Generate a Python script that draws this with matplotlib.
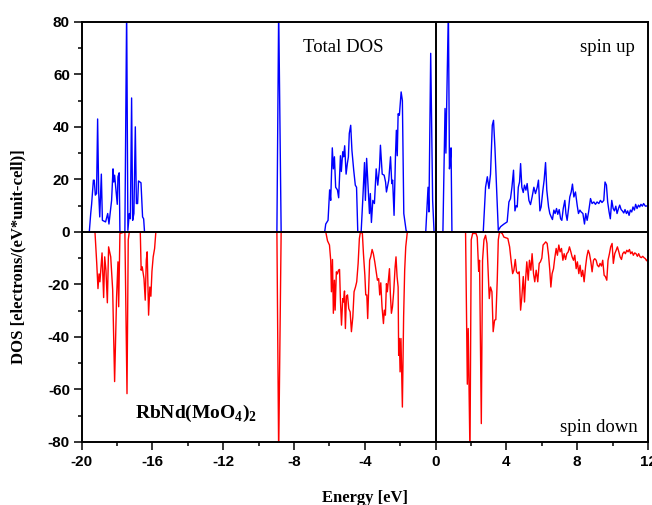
import matplotlib
matplotlib.use("Agg")
import matplotlib.pyplot as plt
from matplotlib.ticker import MultipleLocator

# spin up total DOS (energy in eV, states)
up_energy = [-19.57, -19.49, -19.44, -19.34, -19.29, -19.23, -19.16, -19.10, -19.04, -18.98, -18.89, -18.83,
             -18.65, -18.53, -18.46, -18.31, -18.23, -18.19, -18.14, -17.99, -17.95, -17.88, -17.84, -17.56,
             -17.46, -17.39, -17.31, -17.25, -17.18, -17.12, -17.05, -16.97, -16.91, -16.84, -16.79, -16.65,
             -16.56, -16.50, -16.45,
             -8.97, -8.87, -8.73,
             -6.27, -6.21, -6.08, -5.99, -5.93, -5.84, -5.78, -5.72, -5.65, -5.55, -5.48, -5.38, -5.33, -5.25,
             -5.20, -5.14, -5.06, -4.99, -4.93, -4.88, -4.80, -4.73, -4.63, -4.54, -4.47, -4.40, -4.21, -4.12,
             -4.02, -3.97, -3.90, -3.82, -3.74, -3.69, -3.63, -3.55, -3.46, -3.36, -3.27, -3.17, -3.12, -3.02,
             -2.91, -2.83, -2.78, -2.65, -2.55, -2.48, -2.43, -2.35, -2.27, -2.22, -2.17, -2.12, -2.05, -1.95,
             -1.88, -1.80, -1.67, -1.62,
             -0.56, -0.43, -0.38, -0.28, -0.17, -0.09, 0.41, 0.53, 0.58, 0.62, 0.72, 0.78, 0.82, 0.87, 0.92,
             2.69, 2.82, 2.92, 3.01, 3.10, 3.20, 3.27, 3.35, 3.44, 3.54, 3.67, 3.86, 4.04, 4.14, 4.23, 4.31,
             4.40, 4.48, 4.55, 4.61, 4.67, 4.74, 4.80, 4.87, 4.95, 5.02, 5.10, 5.17, 5.27, 5.36, 5.45, 5.55,
             5.64, 5.74, 5.81, 5.89, 5.96, 6.06, 6.13, 6.21, 6.28, 6.38, 6.45, 6.53, 6.60, 6.68, 6.75, 6.83,
             6.90, 6.98, 7.06, 7.13, 7.21, 7.30, 7.36, 7.43, 7.51, 7.58, 7.66, 7.73, 7.81, 7.90, 8.00, 8.07,
             8.15, 8.22, 8.32, 8.41, 8.48, 8.56, 8.65, 8.75, 8.84, 8.94, 9.03, 9.12, 9.22, 9.31, 9.40, 9.50,
             9.57, 9.65, 9.72, 9.80, 9.87, 9.95, 10.03, 10.10, 10.18, 10.25, 10.33, 10.40, 10.48, 10.55, 10.63,
             10.70, 10.78, 10.85, 10.93, 11.00, 11.08, 11.15, 11.23, 11.30, 11.38, 11.46, 11.53, 11.60, 11.68,
             11.75, 11.85, 11.94, 12.0]
up_dos = [0, 7, 10.5, 19.7, 19.7, 14, 14.6, 43, 15, 5.7, 22, 4.4,
          3.8, 7, 3, 12, 24, 19, 21.6, 10.5, 21, 22.5, 0, 0,
          85, 0.6, 7, 5, 51, 4.4, 7, 40, 10.8, 10.8, 19.4, 18.7,
          5.7, 5, 0,
          0, 85, 0,
          0, 3, 4.4, 16, 12, 32, 24, 28.6, 17, 16, 13, 29, 23, 30.5,
          28.6, 32.8, 22, 26, 28.6, 37.5, 40.6, 31, 23.5, 17.8, 17, 0, 0, 12,
          26.4, 12, 28, 17.8, 7, 14.6, 3.6, 12, 10.8, 24, 17.8, 24.8, 33, 22,
          21.6, 19, 15.2, 19.7, 28.6, 18.4, 19.7, 6.3, 29, 38.7, 29, 45, 44.4, 53.3,
          50, 7, 0.6, 0,
          0, 17, 7.6, 68, 12, 0, 0, 47, 30, 47, 85, 24, 27, 32, 0,
          0, 17, 21, 16.5, 22, 40.6, 42.5, 32, 17, 0.6, 2, 3, 3.8, 11.4, 12.7, 17,
          23.5, 8, 10, 9.5, 17, 19, 26, 17, 15, 17.8, 15.9, 18.4, 12, 10.4, 13.3, 17,
          14.6, 17, 19.7, 8, 9.5, 15.9, 19.7, 26.4, 15.9, 9.5, 7, 5.7, 4.7, 8.3, 7, 8.9,
          6.7, 8.5, 5, 4.4, 8.9, 12, 7, 4.4, 8.9, 13.3, 15.2, 18.2, 13.3, 15.2, 10, 7,
          8.3, 7.6, 7, 3, 7, 4.4, 7.9, 12.7, 10.8, 11.4, 10.5, 11.4, 10.8, 12, 11.2, 12,
          19, 17.8, 11.4, 7.6, 5, 12, 8.9, 8, 9.8, 7, 8.9, 10.2, 8.5, 8, 7.2,
          8.5, 7, 8, 6.3, 8.3, 7.6, 9.5, 8.3, 10.5, 8.9, 10.2, 9.5, 10.5, 9.8,
          10.8, 9.8, 9.9, 9.5]

# spin down total DOS
down_energy = [-19.25, -19.15, -19.08, -19.02, -18.97, -18.85, -18.76, -18.70, -18.63, -18.55, -18.48, -18.36,
               -18.25, -18.14, -18.03, -17.95, -17.91, -17.84, -17.56, -17.44, -17.37, -17.31, -16.69, -16.64,
               -16.58, -16.48, -16.41, -16.35, -16.30, -16.22, -16.15, -16.09, -16.03, -15.96, -15.88, -15.81,
               -8.97, -8.87, -8.73,
               -6.21, -6.11, -6.00, -5.93, -5.89, -5.83, -5.78, -5.72, -5.68, -5.61, -5.55, -5.49, -5.43, -5.38,
               -5.32, -5.25, -5.21, -5.15, -5.10, -5.04, -4.98, -4.91, -4.83, -4.76, -4.68, -4.61, -4.53, -4.46,
               -4.38, -4.31, -4.25, -4.14, -4.08, -4.00, -3.95, -3.89, -3.84, -3.78, -3.73, -3.67, -3.59, -3.52,
               -3.44, -3.37, -3.29, -3.22, -3.16, -3.10, -3.03, -2.95, -2.90, -2.84, -2.78, -2.73, -2.67, -2.61,
               -2.56, -2.50, -2.44, -2.37, -2.29, -2.24, -2.18, -2.12, -2.09, -2.05, -2.01, -1.96, -1.88, -1.81,
               -1.75, -1.69, -1.60,
               1.69, 1.75, 1.79, 1.84, 1.94, 2.01, 2.09, 2.28, 2.35, 2.43, 2.48, 2.58, 2.65, 2.73, 2.82, 2.90,
               2.97, 3.03, 3.10, 3.18, 3.25, 3.33, 3.40, 3.48, 3.54, 3.61, 3.76, 3.86, 4.08, 4.18, 4.27, 4.35,
               4.42, 4.50, 4.57, 4.65, 4.72, 4.80, 4.87, 4.95, 5.02, 5.08, 5.15, 5.23, 5.30, 5.38, 5.45, 5.53,
               5.60, 5.68, 5.77, 5.85, 5.92, 6.00, 6.07, 6.15, 6.22, 6.30, 6.38, 6.45, 6.51, 6.58, 6.66, 6.73,
               6.81, 6.88, 6.96, 7.03, 7.11, 7.19, 7.26, 7.34, 7.41, 7.49, 7.56, 7.64, 7.71, 7.79, 7.86, 7.94,
               8.01, 8.09, 8.16, 8.24, 8.31, 8.39, 8.47, 8.54, 8.62, 8.69, 8.77, 8.84, 8.92, 8.99, 9.07, 9.14,
               9.22, 9.29, 9.37, 9.44, 9.52, 9.59, 9.67, 9.74, 9.82, 9.89, 9.97, 10.04, 10.12, 10.20, 10.27,
               10.35, 10.42, 10.50, 10.57, 10.65, 10.72, 10.80, 10.87, 10.95, 11.02, 11.10, 11.17, 11.25, 11.32,
               11.40, 11.47, 11.55, 11.62, 11.70, 11.77, 11.85, 11.92, 12.0]
down_dos = [0, -12, -21.6, -16, -19, -8, -25, -9.5, -14.6, -27, -5.7, -9.5,
            -22, -57, -25, -11.4, -28.5, -0.6, 0, -61.6, -3, 0, 0, -14.6,
            -13.3, -17.8, -26, -10.8, -7.6, -31.7, -21, -24.5, -15, -9.5, -6.3, 0,
            0, -85, 0,
            0, -3.4, -5, -10.8, -22.8, -10.5, -31, -18.4, -29.8, -15.2, -16, -14.6, -14.3, -26,
            -35.5, -25.4, -26.7, -22.5, -36.8, -24.5, -24, -29.2, -30.5, -38, -32.4, -22.8, -21, -19,
            -12, -2.5, 0, -0.6, -8.3, -16.5, -24, -24, -33, -21, -10.8, -9.5, -6.7, -8.3,
            -11.4, -14.6, -18.4, -17.8, -24, -19.4, -28.6, -34.9, -29.8, -31.7, -19.7, -22.8, -18.4, -14,
            -23.5, -31, -28.6, -22.8, -13.3, -9.5, -17, -21, -47, -40.6, -53.3, -40.6, -66.7, -32.4,
            -14.6, -5.7, 0,
            0, -36.8, -58, -36.8, -85, -3, -0.6, -0.6, -2, -15, -10.8, -73, -10.8, -3, -1.3, -4.4,
            -15.9, -25.4, -21, -22.8, -38, -33.6, -33.4, -18.4, -3, 0, -0.6, -2, -2.5, -5.7, -11.4, -15.9,
            -14.6, -10.5, -15.2, -15.9, -15.2, -29.8, -24.8, -17, -26.7, -18.4, -11.4, -18.4, -10.8, -14.6, -8.3, -15.9,
            -19, -14.6, -19, -12, -11.4, -10, -5, -4.4, -3.8, -4.4, -8.9, -14.6, -21, -15.9, -14, -10,
            -6.3, -8.9, -5, -7.6, -6.3, -10.8, -8.3, -10.5, -8.3, -7.6, -5.7, -7.6, -9.5, -10.8, -8.9, -14,
            -11.4, -15.9, -12.7, -17, -14.6, -19, -13.3, -9.5, -7, -8.3, -11.4, -15.2, -10.8, -10.2, -10.8, -12.7,
            -13.3, -12, -13, -10.8, -16.5, -17, -18.4, -10.8, -8.3, -5.7, -4.4, -12, -8.3, -7, -5.7,
            -7.6, -9.5, -10.5, -8.3, -7.6, -8.3, -7, -7.6, -6.7, -8.3, -7.6, -8.9, -8, -8.3,
            -9.3, -8.3, -9.5, -9.8, -9.3, -9.8, -10.2, -11, -10.2]

x_ticks = [-20, -16, -12, -8, -4, 0, 4, 8, 12]
y_ticks = [-80, -60, -40, -20, 0, 20, 40, 60, 80]

serif = "Liberation Serif"
sans = "Liberation Sans"

plt.rcParams["axes.unicode_minus"] = False
plt.rcParams["mathtext.fontset"] = "custom"
plt.rcParams["mathtext.rm"] = "Liberation Serif"
plt.rcParams["mathtext.bf"] = "Liberation Serif:bold"

fig = plt.figure(figsize=(6.52, 5.05), dpi=100)
ax = fig.add_axes([0.1253, 0.1248, 0.8686, 0.832])

ax.plot(up_energy, up_dos, color="#0000ff", lw=1.0)
ax.plot(down_energy, down_dos, color="#ff0000", lw=1.0)
ax.axhline(0, color="black", lw=1.4, zorder=3)
ax.axvline(0, color="black", lw=1.4, zorder=3)

ax.set_xlim(-20, 12)
ax.set_ylim(-80, 80)
ax.set_xticks(x_ticks)
ax.set_yticks(y_ticks)
ax.xaxis.set_minor_locator(MultipleLocator(2))
ax.yaxis.set_minor_locator(MultipleLocator(10))
ax.tick_params(which="major", direction="out", length=5.5, width=1.1, pad=4)
ax.tick_params(which="minor", direction="out", length=3, width=1.1)
ax.tick_params(axis="y", pad=3)
for lab in ax.get_xticklabels() + ax.get_yticklabels():
    lab.set_fontfamily(sans)
    lab.set_fontweight("bold")
    lab.set_fontsize(11)
for sp in ax.spines.values():
    sp.set_linewidth(1.4)

ax.set_xlabel("Energy [eV]", fontfamily=serif, fontweight="bold", fontsize=12)
ax.set_ylabel("DOS [electrons/(eV*unit-cell)]", fontfamily=serif, fontweight="bold", fontsize=12)
ax.xaxis.set_label_coords(0.5, -0.115)
ax.yaxis.set_label_coords(-0.098, 0.44)

ax.text(-7.5, 68.5, "Total DOS", fontfamily=serif, fontsize=13.5)
ax.text(11.25, 68.5, "spin up", fontfamily=serif, fontsize=13.5, ha="right")
ax.text(11.4, -76.3, "spin down", fontfamily=serif, fontsize=13.5, ha="right")
ax.text(-17.0, -71, r"RbNd(MoO$_\mathbf{4}$)$_\mathbf{2}$", fontfamily=serif, fontweight="bold", fontsize=14)

fig.savefig("out.png", dpi=100)
